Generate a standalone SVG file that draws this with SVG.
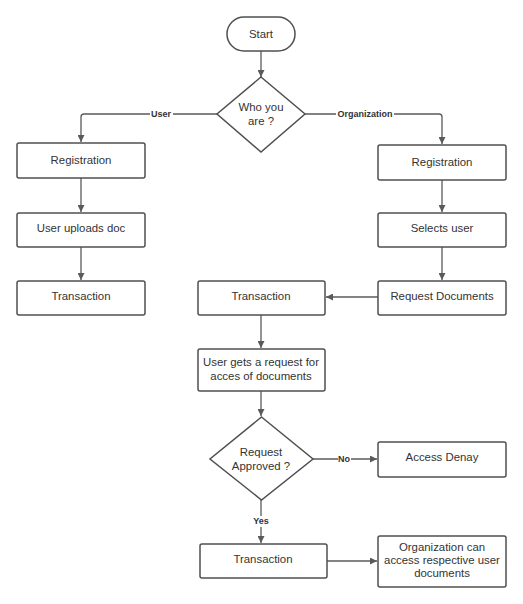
<svg xmlns="http://www.w3.org/2000/svg" width="523" height="604" viewBox="0 0 523 604">
<style>
.n{fill:#fff;stroke:#505050;stroke-width:1.5}
.t{font-family:"Liberation Sans",Arial,sans-serif;font-size:11.4px;fill:#333;text-anchor:middle}
.c{fill:none;stroke:#5a5a5a;stroke-width:1.3}
.l{font-family:"Liberation Sans",Arial,sans-serif;font-size:9px;font-weight:bold;fill:#333;text-anchor:middle}
.lb{fill:#fff}
</style>
<defs>
<marker id="a" viewBox="0 0 10 10" refX="10" refY="5" markerWidth="7" markerHeight="7" markerUnits="userSpaceOnUse" orient="auto">
<path d="M0,0L10,5L0,10z" fill="#5a5a5a"/>
</marker>
</defs>
<rect width="523" height="604" fill="#fff"/>
<g id="connectors">
<path class="c" d="M261,51V77" marker-end="url(#a)"/>
<path class="c" d="M217,114H84Q81,114 81,117V142" marker-end="url(#a)"/>
<path class="c" d="M305,114H439Q442,114 442,117V144" marker-end="url(#a)"/>
<path class="c" d="M81,178V212" marker-end="url(#a)"/>
<path class="c" d="M81,247V280" marker-end="url(#a)"/>
<path class="c" d="M442,180V212" marker-end="url(#a)"/>
<path class="c" d="M442,247V280" marker-end="url(#a)"/>
<path class="c" d="M378,297H326" marker-end="url(#a)"/>
<path class="c" d="M261,315V348" marker-end="url(#a)"/>
<path class="c" d="M261,391V416" marker-end="url(#a)"/>
<path class="c" d="M313,459H377" marker-end="url(#a)"/>
<path class="c" d="M261,500V543" marker-end="url(#a)"/>
<path class="c" d="M327,561H377" marker-end="url(#a)"/>
<rect class="lb" x="150" y="108" width="23" height="11"/>
<text class="l" x="161" y="117">User</text>
<rect class="lb" x="336" y="108" width="58" height="11"/>
<text class="l" x="365" y="117">Organization</text>
<rect class="lb" x="338" y="453" width="13" height="11"/>
<text class="l" x="344" y="462">No</text>
<rect class="lb" x="252" y="516" width="18" height="11"/>
<text class="l" x="261" y="524">Yes</text>
</g>
<g id="start"><rect class="n" x="227" y="17" width="68" height="34" rx="17"/><text class="t" x="261" y="38">Start</text></g>
<g id="who"><path class="n" d="M261,77L305,114L261,152L217,114Z"/><text class="t" x="261" y="111">Who you</text><text class="t" x="261" y="125">are ?</text></g>
<g id="reg-user"><rect class="n" x="17" y="143" width="128" height="35" rx="2"/><text class="t" x="81" y="164">Registration</text></g>
<g id="upload"><rect class="n" x="17" y="213" width="128" height="34" rx="2"/><text class="t" x="81" y="232">User uploads doc</text></g>
<g id="trans-user"><rect class="n" x="17" y="281" width="128" height="34" rx="2"/><text class="t" x="81" y="300">Transaction</text></g>
<g id="reg-org"><rect class="n" x="378" y="145" width="128" height="35" rx="2"/><text class="t" x="442" y="166">Registration</text></g>
<g id="selects"><rect class="n" x="378" y="213" width="128" height="34" rx="2"/><text class="t" x="442" y="232">Selects user</text></g>
<g id="request-docs"><rect class="n" x="378" y="281" width="128" height="34" rx="2"/><text class="t" x="442" y="300">Request Documents</text></g>
<g id="trans-mid"><rect class="n" x="198" y="281" width="127" height="34" rx="2"/><text class="t" x="261" y="300">Transaction</text></g>
<g id="user-gets"><rect class="n" x="198" y="349" width="127" height="42" rx="2"/><text class="t" x="261" y="366">User gets a request for</text><text class="t" x="261" y="380">acces of documents</text></g>
<g id="approved"><path class="n" d="M261.5,417L313,459L261.5,500L210,459Z"/><text class="t" x="261" y="456">Request</text><text class="t" x="261" y="470">Approved ?</text></g>
<g id="denay"><rect class="n" x="378" y="442" width="128" height="35" rx="2"/><text class="t" x="442" y="461">Access Denay</text></g>
<g id="trans-bottom"><rect class="n" x="200" y="544" width="127" height="34" rx="2"/><text class="t" x="263" y="563">Transaction</text></g>
<g id="org-access"><rect class="n" x="378" y="536" width="128" height="51" rx="2"/><text class="t" x="442" y="551">Organization can</text><text class="t" x="442" y="564">access respective user</text><text class="t" x="442" y="577">documents</text></g>
</svg>
